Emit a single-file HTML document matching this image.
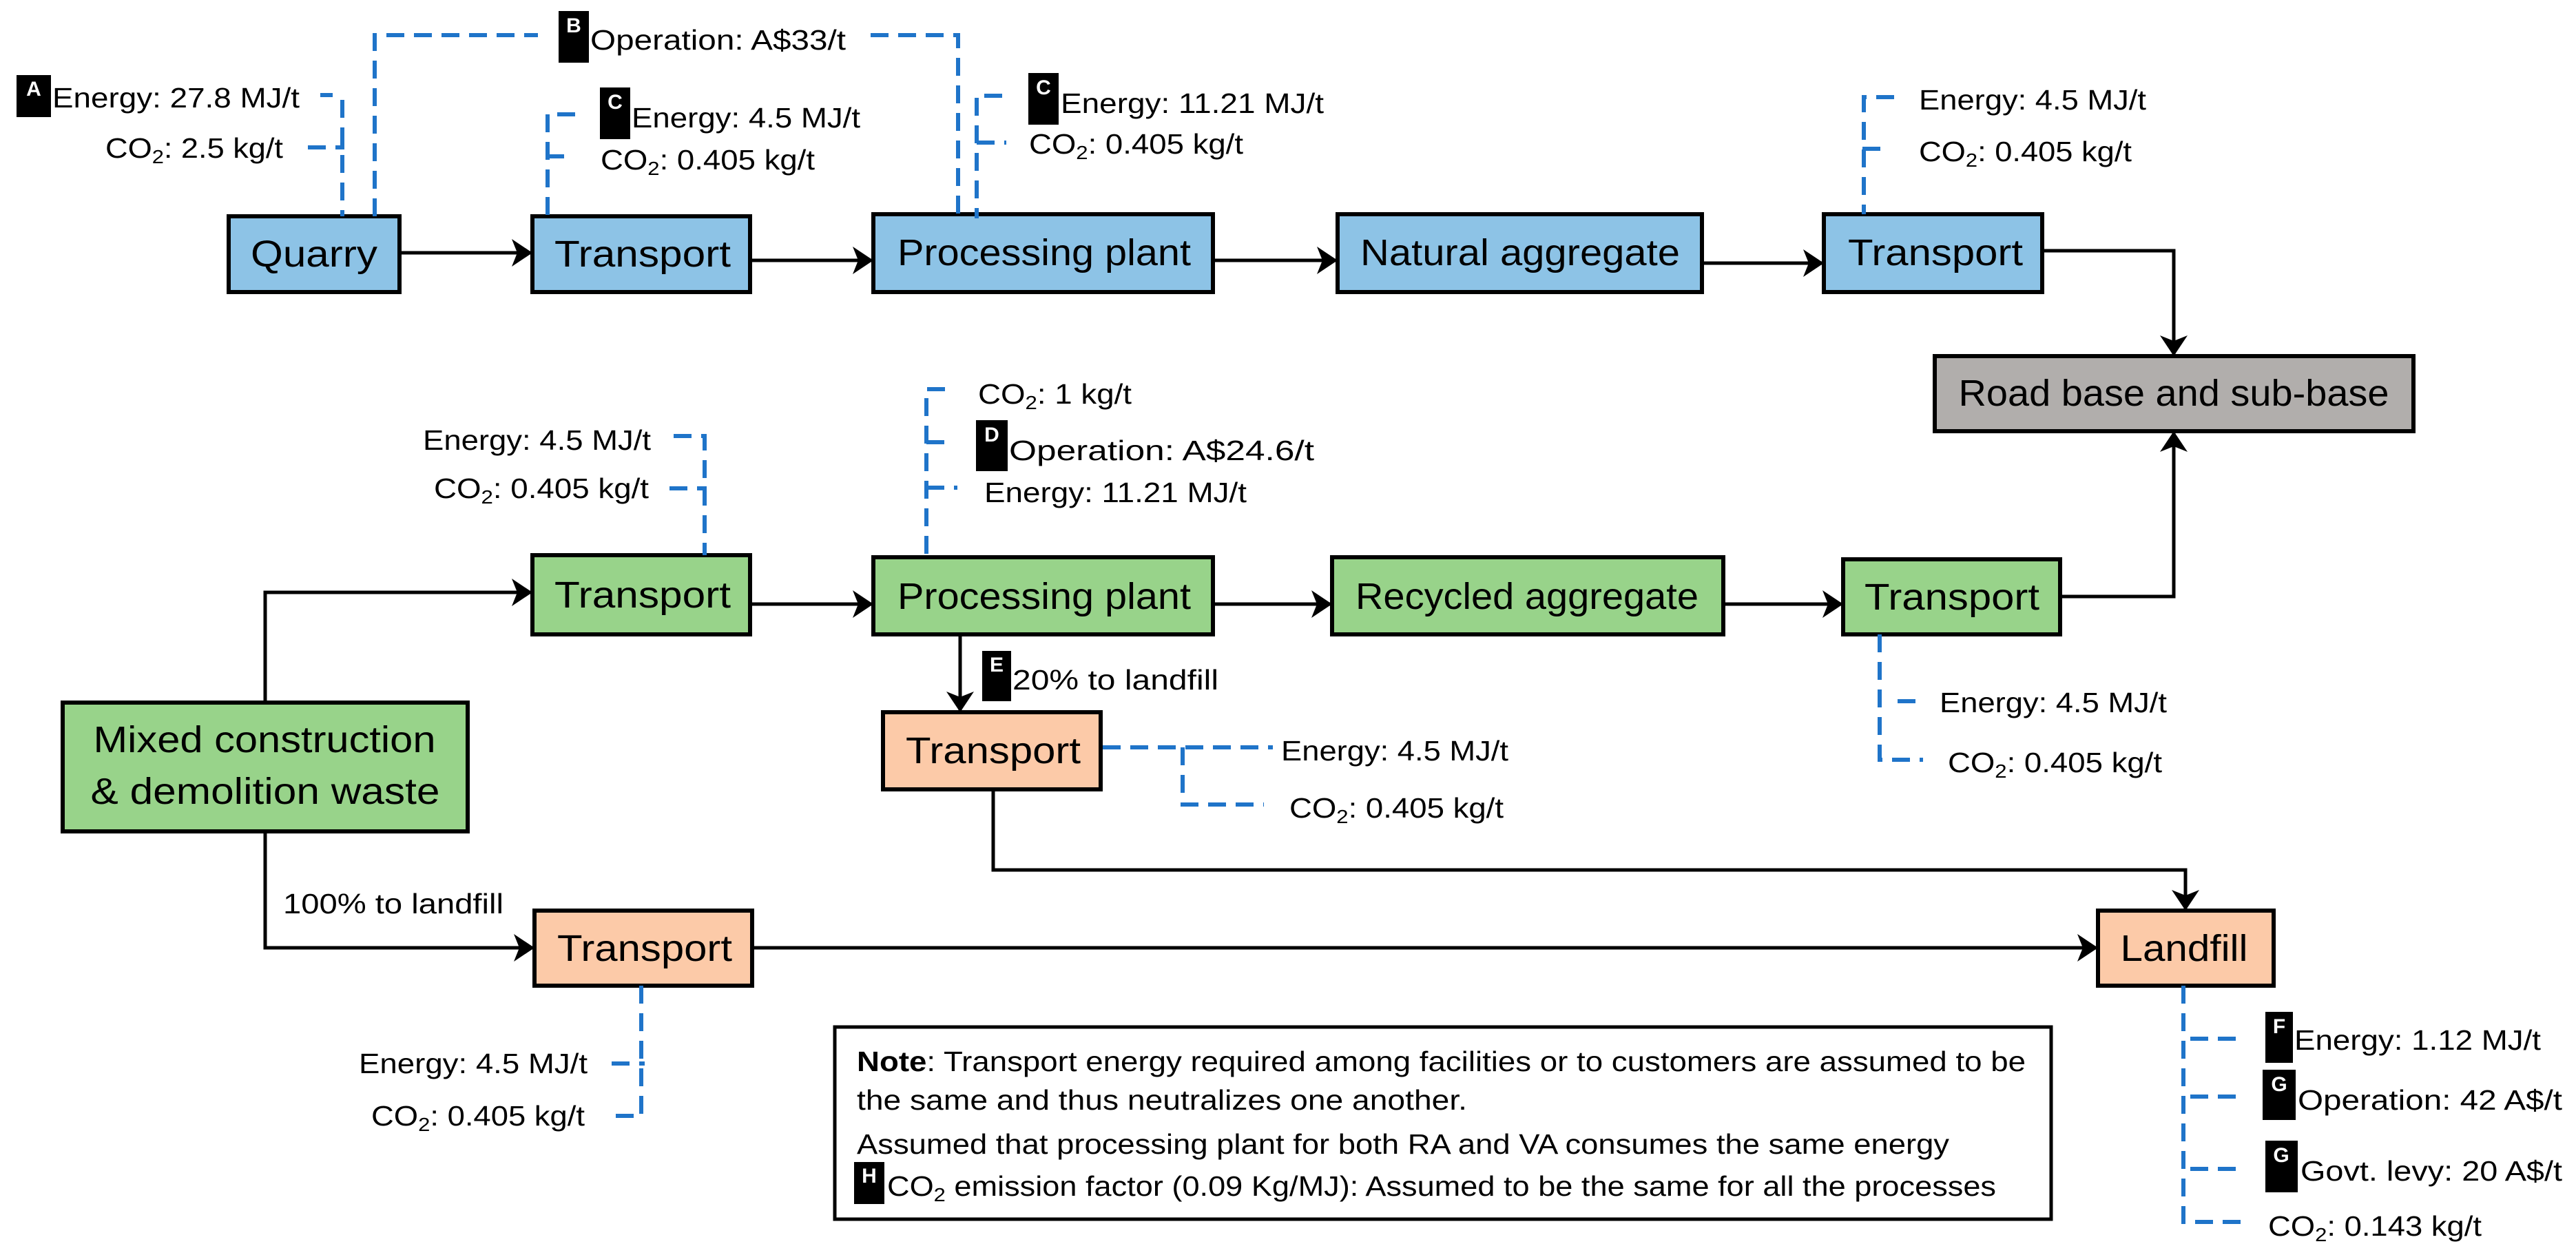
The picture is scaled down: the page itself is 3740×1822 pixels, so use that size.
<!DOCTYPE html>
<html><head><meta charset="utf-8"><style>
html,body{margin:0;padding:0;background:#fff}
svg{display:block}
text{font-family:"Liberation Sans",sans-serif;fill:#000}
.bx{stroke:#000;stroke-width:6}
.bt{font-size:54px;text-anchor:middle;dominant-baseline:central}
.a{font-size:41px;dominant-baseline:central}
.d{stroke:#1f74c9;stroke-width:6;fill:none;stroke-dasharray:26 14}
.l{stroke:#000;stroke-width:5;fill:none}
.bd{fill:#000}
.bl{fill:#fff;font-size:30px;font-weight:bold;text-anchor:middle}
</style></head><body>
<svg width="3740" height="1822" viewBox="0 0 3740 1822" xmlns="http://www.w3.org/2000/svg">
<defs>
<marker id="ar" viewBox="0 0 30 40" refX="28" refY="20" markerWidth="30" markerHeight="40" markerUnits="userSpaceOnUse" orient="auto">
<path d="M0,0 L30,20 L0,40 L8,20 Z" fill="#000"/>
</marker>
</defs>

<line class="l" x1="580" y1="367" x2="771" y2="367" marker-end="url(#ar)"/>
<line class="l" x1="1092" y1="378" x2="1266" y2="378" marker-end="url(#ar)"/>
<line class="l" x1="1762" y1="378" x2="1940" y2="378" marker-end="url(#ar)"/>
<line class="l" x1="2472" y1="382" x2="2646" y2="382" marker-end="url(#ar)"/>
<polyline class="l" points="2966,364 3156,364 3156,515" marker-end="url(#ar)"/>
<polyline class="l" points="2992,866 3156,866 3156,628" marker-end="url(#ar)"/>
<polyline class="l" points="385,1020 385,860 771,860" marker-end="url(#ar)"/>
<line class="l" x1="1092" y1="877" x2="1266" y2="877" marker-end="url(#ar)"/>
<line class="l" x1="1762" y1="877" x2="1932" y2="877" marker-end="url(#ar)"/>
<line class="l" x1="2503" y1="877" x2="2674" y2="877" marker-end="url(#ar)"/>
<line class="l" x1="1394" y1="919" x2="1394" y2="1032" marker-end="url(#ar)"/>
<polyline class="l" points="1442,1146 1442,1263 3173,1263 3173,1320" marker-end="url(#ar)"/>
<polyline class="l" points="385,1207 385,1376 774,1376" marker-end="url(#ar)"/>
<line class="l" x1="1092" y1="1376" x2="3044" y2="1376" marker-end="url(#ar)"/>

<rect class="bx" x="332" y="314" width="248" height="110" fill="#8dc3e6"/>
<text class="bt" x="456" y="369" textLength="184" lengthAdjust="spacingAndGlyphs">Quarry</text>
<rect class="bx" x="773" y="314" width="316" height="110" fill="#8dc3e6"/>
<text class="bt" x="933" y="369" textLength="256" lengthAdjust="spacingAndGlyphs">Transport</text>
<rect class="bx" x="1268" y="311" width="493" height="113" fill="#8dc3e6"/>
<text class="bt" x="1516" y="367" textLength="426" lengthAdjust="spacingAndGlyphs">Processing plant</text>
<rect class="bx" x="1942" y="311" width="529" height="113" fill="#8dc3e6"/>
<text class="bt" x="2207" y="367" textLength="464" lengthAdjust="spacingAndGlyphs">Natural aggregate</text>
<rect class="bx" x="2648" y="311" width="317" height="113" fill="#8dc3e6"/>
<text class="bt" x="2810" y="367" textLength="254" lengthAdjust="spacingAndGlyphs">Transport</text>
<rect class="bx" x="2809" y="517" width="695" height="109" fill="#b1aeac"/>
<text class="bt" x="3156" y="571" textLength="625" lengthAdjust="spacingAndGlyphs">Road base and sub-base</text>

<rect class="bx" x="773" y="806" width="316" height="115" fill="#98d38a"/>
<text class="bt" x="933" y="864" textLength="256" lengthAdjust="spacingAndGlyphs">Transport</text>
<rect class="bx" x="1268" y="809" width="493" height="112" fill="#98d38a"/>
<text class="bt" x="1516" y="866" textLength="426" lengthAdjust="spacingAndGlyphs">Processing plant</text>
<rect class="bx" x="1934" y="809" width="568" height="112" fill="#98d38a"/>
<text class="bt" x="2217" y="866" textLength="498" lengthAdjust="spacingAndGlyphs">Recycled aggregate</text>
<rect class="bx" x="2676" y="812" width="315" height="109" fill="#98d38a"/>
<text class="bt" x="2834" y="867" textLength="254" lengthAdjust="spacingAndGlyphs">Transport</text>
<rect class="bx" x="91" y="1020" width="588" height="187" fill="#98d38a"/>
<text class="bt" x="384" y="1074" textLength="497" lengthAdjust="spacingAndGlyphs">Mixed construction</text>
<text class="bt" x="385" y="1149" textLength="507" lengthAdjust="spacingAndGlyphs">&amp; demolition waste</text>

<rect class="bx" x="1282" y="1034" width="316" height="112" fill="#fccaa8"/>
<text class="bt" x="1442" y="1090" textLength="254" lengthAdjust="spacingAndGlyphs">Transport</text>
<rect class="bx" x="776" y="1322" width="316" height="109" fill="#fccaa8"/>
<text class="bt" x="936" y="1377" textLength="254" lengthAdjust="spacingAndGlyphs">Transport</text>
<rect class="bx" x="3046" y="1322" width="255" height="109" fill="#fccaa8"/>
<text class="bt" x="3171" y="1377" textLength="185" lengthAdjust="spacingAndGlyphs">Landfill</text>

<text class="a" x="411" y="1312" textLength="320" lengthAdjust="spacingAndGlyphs">100% to landfill</text>
<rect class="bd" x="1426" y="945" width="42" height="73"/><text class="bl" x="1447" y="975">E</text>
<text class="a" x="1470" y="987" textLength="299" lengthAdjust="spacingAndGlyphs">20% to landfill</text>

<rect class="bd" x="24" y="109" width="50" height="61"/><text class="bl" x="49" y="139">A</text>
<text class="a" x="76" y="142" textLength="359" lengthAdjust="spacingAndGlyphs">Energy: 27.8 MJ/t</text>
<text class="a" x="153" y="215" textLength="258" lengthAdjust="spacingAndGlyphs">CO<tspan font-size="28" dy="12">2</tspan><tspan dy="-12">: 2.5 kg/t</tspan></text>
<line class="d" x1="465" y1="138" x2="483" y2="138"/>
<line class="d" x1="497" y1="145" x2="497" y2="314"/>
<line class="d" x1="447" y1="214" x2="500" y2="214" stroke-dasharray="10 12 30 0"/>
<polyline class="d" points="544,314 544,51 781,51"/>
<rect class="bd" x="811" y="16" width="44" height="75"/><text class="bl" x="833" y="47">B</text>
<text class="a" x="857" y="58" textLength="371" lengthAdjust="spacingAndGlyphs">Operation: A$33/t</text>
<polyline class="d" points="1264,51 1391,51 1391,317"/>

<polyline class="d" points="835,166 795,166 795,314"/>
<line class="d" x1="793" y1="227" x2="819" y2="227"/>
<rect class="bd" x="871" y="127" width="44" height="75"/><text class="bl" x="893" y="158">C</text>
<text class="a" x="917" y="171" textLength="332" lengthAdjust="spacingAndGlyphs">Energy: 4.5 MJ/t</text>
<text class="a" x="872" y="232" textLength="311" lengthAdjust="spacingAndGlyphs">CO<tspan font-size="28" dy="12">2</tspan><tspan dy="-12">: 0.405 kg/t</tspan></text>

<polyline class="d" points="1455,139 1418,139 1418,317"/>
<line class="d" x1="1418" y1="207" x2="1461" y2="207"/>
<rect class="bd" x="1493" y="106" width="44" height="75"/><text class="bl" x="1515" y="137">C</text>
<text class="a" x="1540" y="150" textLength="382" lengthAdjust="spacingAndGlyphs">Energy: 11.21 MJ/t</text>
<text class="a" x="1494" y="209" textLength="311" lengthAdjust="spacingAndGlyphs">CO<tspan font-size="28" dy="12">2</tspan><tspan dy="-12">: 0.405 kg/t</tspan></text>

<polyline class="d" points="2750,141 2706,141 2706,311"/>
<line class="d" x1="2704" y1="216" x2="2732" y2="216"/>
<text class="a" x="2786" y="145" textLength="330" lengthAdjust="spacingAndGlyphs">Energy: 4.5 MJ/t</text>
<text class="a" x="2786" y="220" textLength="309" lengthAdjust="spacingAndGlyphs">CO<tspan font-size="28" dy="12">2</tspan><tspan dy="-12">: 0.405 kg/t</tspan></text>

<polyline class="d" points="978,633 1023,633 1023,806"/>
<line class="d" x1="972" y1="709" x2="1026" y2="709"/>
<text class="a" x="614" y="639" textLength="331" lengthAdjust="spacingAndGlyphs">Energy: 4.5 MJ/t</text>
<text class="a" x="630" y="709" textLength="312" lengthAdjust="spacingAndGlyphs">CO<tspan font-size="28" dy="12">2</tspan><tspan dy="-12">: 0.405 kg/t</tspan></text>

<polyline class="d" points="1372,565 1345,565 1345,809"/>
<line class="d" x1="1345" y1="642" x2="1385" y2="642"/>
<line class="d" x1="1345" y1="708" x2="1390" y2="708"/>
<text class="a" x="1420" y="572" textLength="223" lengthAdjust="spacingAndGlyphs">CO<tspan font-size="28" dy="12">2</tspan><tspan dy="-12">: 1 kg/t</tspan></text>
<rect class="bd" x="1417" y="610" width="46" height="74"/><text class="bl" x="1440" y="641">D</text>
<text class="a" x="1465" y="654" textLength="443" lengthAdjust="spacingAndGlyphs">Operation: A$24.6/t</text>
<text class="a" x="1429" y="715" textLength="381" lengthAdjust="spacingAndGlyphs">Energy: 11.21 MJ/t</text>

<polyline class="d" points="2729,921 2729,1103 2792,1103"/>
<line class="d" x1="2755" y1="1018" x2="2785" y2="1018"/>
<text class="a" x="2816" y="1020" textLength="330" lengthAdjust="spacingAndGlyphs">Energy: 4.5 MJ/t</text>
<text class="a" x="2828" y="1107" textLength="311" lengthAdjust="spacingAndGlyphs">CO<tspan font-size="28" dy="12">2</tspan><tspan dy="-12">: 0.405 kg/t</tspan></text>

<line class="d" x1="1601" y1="1085" x2="1848" y2="1085"/>
<polyline class="d" points="1717,1085 1717,1168 1835,1168"/>
<text class="a" x="1860" y="1090" textLength="330" lengthAdjust="spacingAndGlyphs">Energy: 4.5 MJ/t</text>
<text class="a" x="1872" y="1173" textLength="311" lengthAdjust="spacingAndGlyphs">CO<tspan font-size="28" dy="12">2</tspan><tspan dy="-12">: 0.405 kg/t</tspan></text>

<polyline class="d" points="931,1431 931,1620 882,1620"/>
<line class="d" x1="888" y1="1544" x2="936" y2="1544"/>
<text class="a" x="521" y="1544" textLength="332" lengthAdjust="spacingAndGlyphs">Energy: 4.5 MJ/t</text>
<text class="a" x="539" y="1620" textLength="310" lengthAdjust="spacingAndGlyphs">CO<tspan font-size="28" dy="12">2</tspan><tspan dy="-12">: 0.405 kg/t</tspan></text>

<polyline class="d" points="3170,1431 3170,1774 3257,1774"/>
<line class="d" x1="3180" y1="1508" x2="3257" y2="1508"/>
<line class="d" x1="3180" y1="1592" x2="3257" y2="1592"/>
<line class="d" x1="3180" y1="1697" x2="3257" y2="1697"/>
<rect class="bd" x="3289" y="1469" width="40" height="74"/><text class="bl" x="3309" y="1500">F</text>
<text class="a" x="3331" y="1510" textLength="358" lengthAdjust="spacingAndGlyphs">Energy: 1.12 MJ/t</text>
<rect class="bd" x="3285" y="1553" width="48" height="73"/><text class="bl" x="3309" y="1584">G</text>
<text class="a" x="3336" y="1597" textLength="384" lengthAdjust="spacingAndGlyphs">Operation: 42 A$/t</text>
<rect class="bd" x="3289" y="1656" width="47" height="75"/><text class="bl" x="3312" y="1687">G</text>
<text class="a" x="3340" y="1700" textLength="380" lengthAdjust="spacingAndGlyphs">Govt. levy: 20 A$/t</text>
<text class="a" x="3293" y="1780" textLength="310" lengthAdjust="spacingAndGlyphs">CO<tspan font-size="28" dy="12">2</tspan><tspan dy="-12">: 0.143 kg/t</tspan></text>

<rect x="1212" y="1491" width="1766" height="279" fill="#fff" stroke="#000" stroke-width="5"/>
<text class="a" x="1244" y="1541" textLength="1697" lengthAdjust="spacingAndGlyphs"><tspan font-weight="bold">Note</tspan>: Transport energy required among facilities or to customers are assumed to be</text>
<text class="a" x="1244" y="1597" textLength="886" lengthAdjust="spacingAndGlyphs">the same and thus neutralizes one another.</text>
<text class="a" x="1244" y="1661" textLength="1586" lengthAdjust="spacingAndGlyphs">Assumed that processing plant for both RA and VA consumes the same energy</text>
<rect class="bd" x="1240" y="1687" width="44" height="61"/><text class="bl" x="1262" y="1717">H</text>
<text class="a" x="1288" y="1722" textLength="1610" lengthAdjust="spacingAndGlyphs">CO<tspan font-size="28" dy="12">2</tspan><tspan dy="-12"> emission factor (0.09 Kg/MJ): Assumed to be the same for all the processes</tspan></text>
</svg>
</body></html>
